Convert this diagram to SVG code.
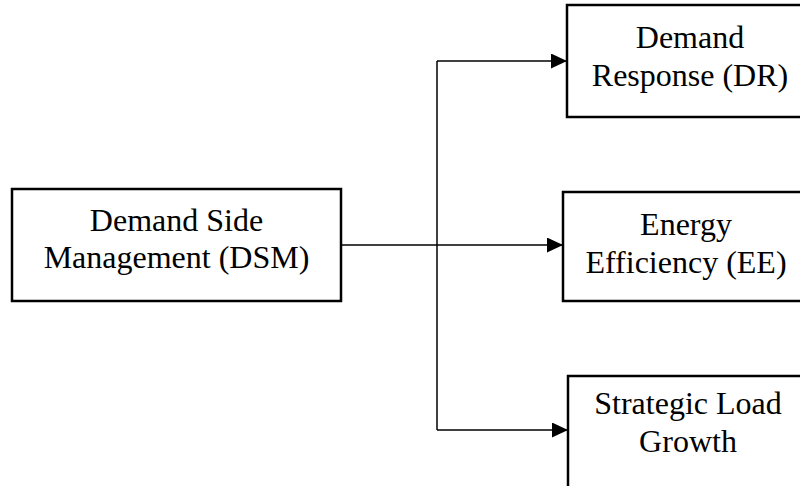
<svg xmlns="http://www.w3.org/2000/svg" width="800" height="486" viewBox="0 0 800 486">
<style>
.box{fill:#fff;stroke:#000;stroke-width:2.5}
.t{font-family:"Liberation Serif","Times New Roman",serif;font-size:32px;fill:#000;text-anchor:middle}
.c{fill:none;stroke:#000;stroke-width:1.5}
</style>
<defs>
<marker id="ah" markerWidth="16" markerHeight="15" refX="16" refY="7.5" orient="auto" markerUnits="userSpaceOnUse">
<path d="M0,0 L16,7.5 L0,15 Z" fill="#000"/>
</marker>
</defs>
<rect width="800" height="486" fill="#fff"/>
<g id="connectors">
<line class="c" x1="341" y1="245" x2="563" y2="245" marker-end="url(#ah)"/>
<line class="c" x1="437" y1="61" x2="437" y2="430"/>
<line class="c" x1="437" y1="61" x2="567" y2="61" marker-end="url(#ah)"/>
<line class="c" x1="437" y1="430" x2="568" y2="430" marker-end="url(#ah)"/>
</g>
<g id="dsm">
<rect class="box" x="12" y="189" width="329" height="112"/>
<text class="t" x="176.5" y="231">Demand Side</text>
<text class="t" x="176.5" y="268">Management (DSM)</text>
</g>
<g id="dr">
<rect class="box" x="567" y="5" width="250" height="112"/>
<text class="t" x="690" y="48">Demand</text>
<text class="t" x="690" y="86">Response (DR)</text>
</g>
<g id="ee">
<rect class="box" x="563" y="192" width="250" height="109"/>
<text class="t" x="686" y="235">Energy</text>
<text class="t" x="686" y="273">Efficiency (EE)</text>
</g>
<g id="slg">
<rect class="box" x="568" y="376" width="250" height="130"/>
<text class="t" x="688" y="414">Strategic Load</text>
<text class="t" x="688" y="452">Growth</text>
</g>
</svg>
